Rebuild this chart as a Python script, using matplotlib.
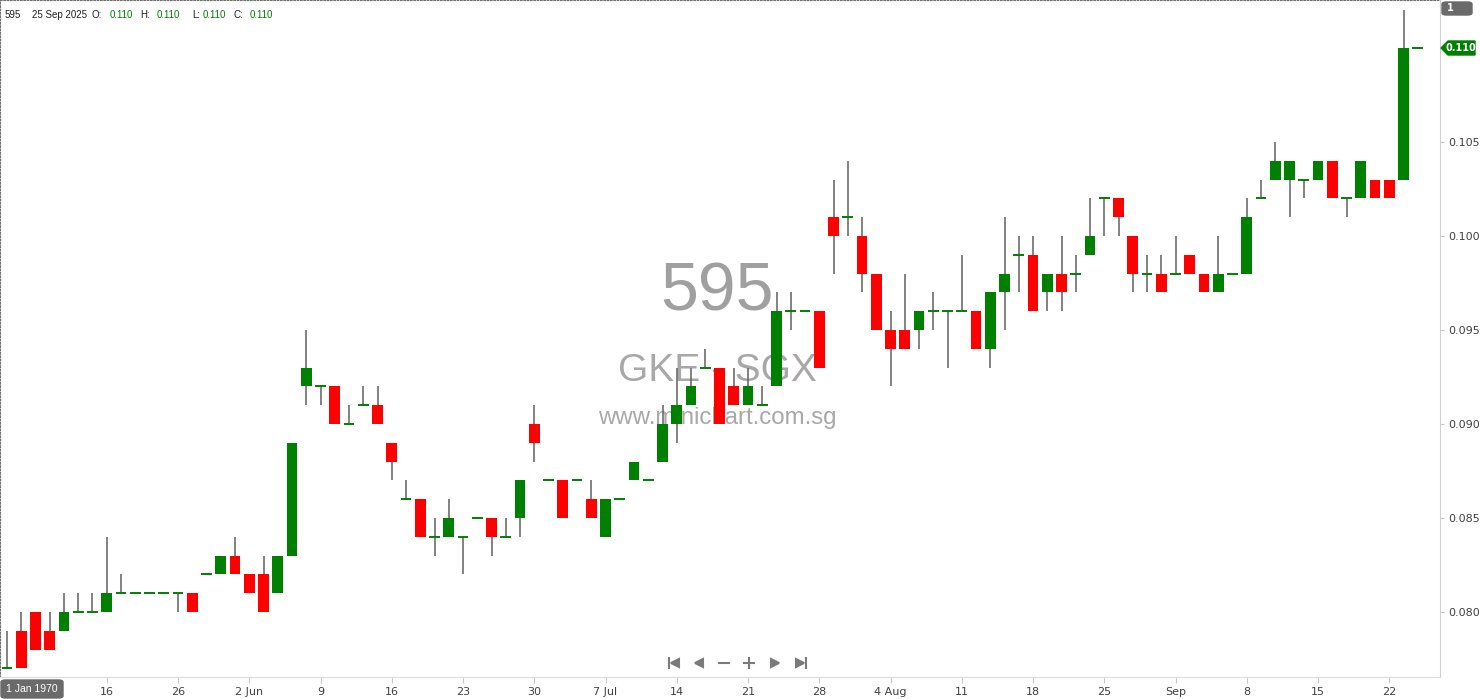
import numpy as np
import matplotlib
matplotlib.use("Agg")
import matplotlib.pyplot as plt
from matplotlib.patches import Polygon, FancyBboxPatch
from matplotlib.lines import Line2D

# =========================
# Date OHLC (in 0.001 SGD)
# =========================
opens = [77, 79, 80, 79, 79, 80, 80, 80, 81, 81, 81, 81, 81, 81, 82, 82, 83, 82, 82, 81,
         83, 92, 92, 92, 90, 91, 91, 89, 86, 86, 84, 84, 84, 85, 85, 84, 85, 90, 87, 87,
         87, 86, 84, 86, 87, 87, 88, 90, 91, 93, 93, 92, 91, 91, 92, 96, 96, 96, 101, 101,
         100, 98, 95, 95, 95, 96, 96, 96, 96, 94, 97, 99, 99, 97, 98, 98, 99, 102, 102, 100,
         98, 98, 98, 99, 98, 97, 98, 98, 102, 103, 103, 103, 103, 104, 102, 102, 103, 103, 103, 110]
highs = [79, 80, 80, 80, 81, 81, 81, 84, 82, 81, 81, 81, 81, 81, 82, 83, 84, 82, 83, 83,
         89, 95, 92, 92, 91, 92, 92, 89, 87, 86, 85, 86, 84, 85, 85, 85, 87, 91, 87, 87,
         87, 87, 86, 86, 88, 87, 91, 93, 93, 94, 93, 93, 93, 92, 97, 97, 96, 96, 103, 104,
         101, 98, 96, 98, 96, 97, 96, 99, 96, 97, 101, 100, 100, 98, 100, 99, 102, 102, 102, 100,
         99, 99, 100, 99, 98, 100, 98, 102, 103, 105, 104, 103, 104, 104, 102, 104, 103, 103, 112, 110]
lows = [77, 77, 78, 78, 79, 80, 80, 80, 81, 81, 81, 81, 80, 80, 82, 82, 82, 81, 80, 81,
        83, 91, 91, 90, 90, 91, 90, 87, 86, 84, 83, 84, 82, 85, 83, 84, 84, 88, 87, 85,
        87, 85, 84, 86, 87, 87, 88, 89, 91, 93, 90, 91, 91, 91, 92, 95, 96, 93, 98, 100,
        97, 95, 92, 94, 94, 95, 93, 96, 94, 93, 95, 97, 96, 96, 96, 97, 99, 100, 100, 97,
        97, 97, 98, 98, 97, 97, 98, 98, 102, 103, 101, 102, 103, 102, 101, 102, 102, 102, 103, 110]
closes = [77, 77, 78, 78, 80, 80, 80, 81, 81, 81, 81, 81, 81, 80, 82, 83, 82, 81, 80, 83,
          89, 93, 92, 90, 90, 91, 90, 88, 86, 84, 84, 85, 84, 85, 84, 84, 87, 89, 87, 85,
          87, 85, 86, 86, 88, 87, 90, 91, 92, 93, 90, 91, 92, 91, 96, 96, 96, 93, 100, 101,
          98, 95, 94, 94, 96, 96, 96, 96, 94, 97, 98, 99, 96, 98, 97, 98, 100, 102, 101, 98,
          98, 97, 98, 98, 97, 98, 98, 101, 102, 104, 104, 103, 104, 102, 102, 104, 102, 102, 110, 110]

tick_idx = [7, 12, 17, 22, 27, 32, 37, 42, 47, 52, 57, 62, 67, 72, 77, 82, 87, 92, 97]
tick_labels = ["16", "26", "2 Jun", "9", "16", "23", "30", "7 Jul", "14", "21", "28",
               "4 Aug", "11", "18", "25", "Sep", "8", "15", "22"]
y_ticks = [0.080, 0.085, 0.090, 0.095, 0.100, 0.105]

o = np.array(opens) / 1000
h = np.array(highs) / 1000
l = np.array(lows) / 1000
c = np.array(closes) / 1000
x = np.arange(len(o))

GREEN = "#008000"
RED = "#ff0000"
W, H = 1480, 699

fig = plt.figure(figsize=(W / 100, H / 100), dpi=100)
ax = fig.add_axes([0, 22 / H, 1440 / W, 677 / H])

# watermark
ax.text(0.498, 0.568, "595", transform=ax.transAxes, ha="center", va="center",
        fontsize=49, color="#a0a0a0", family="Liberation Sans", zorder=0)
ax.text(0.498, 0.452, "GKE - SGX", transform=ax.transAxes, ha="center", va="center",
        fontsize=28, color="#a8a8a8", family="Liberation Sans", zorder=0)
ax.text(0.498, 0.383, "www.minichart.com.sg", transform=ax.transAxes, ha="center", va="center",
        fontsize=17.3, color="#a8a8a8", family="Liberation Sans", zorder=0)

# wicks
ax.vlines(x, l, h, color="#606060", linewidth=1.1, zorder=2)

# bodies
up = c > o
dn = c < o
flat = c == o
bw = 0.76
ax.bar(x[up], (c - o)[up], bottom=o[up], width=bw, color=GREEN, zorder=3)
ax.bar(x[dn], (o - c)[dn], bottom=c[dn], width=bw, color=RED, zorder=3)
ax.hlines(c[flat], x[flat] - bw / 2, x[flat] + bw / 2, color=GREEN, linewidth=1.4, zorder=3)

ax.set_xlim(-0.491, 100.56)
ax.set_ylim(0.076543, 0.112553)

ax.yaxis.tick_right()
ax.set_yticks(y_ticks)
ax.set_yticklabels([f"{v:.3f}" for v in y_ticks])
ax.set_xticks(tick_idx)
ax.set_xticklabels(tick_labels)
ax.tick_params(axis="y", length=3, width=0.8, color="#c8c8c8", labelsize=8,
               labelcolor="#404040", pad=3)
ax.tick_params(axis="x", length=4, width=0.8, color="#c8c8c8", labelsize=8,
               labelcolor="#404040", pad=3)

for s in ["left", "top"]:
    ax.spines[s].set_linestyle((0, (1.5, 1.5)))
    ax.spines[s].set_color("#707070")
    ax.spines[s].set_linewidth(0.8)
ax.spines["right"].set_color("#cfcfcf")
ax.spines["bottom"].set_color("#dcdcdc")


def fx(px):
    return px / W


def fy(py):
    return 1 - py / H


# header line
hdr = [("595", 5, "#202020"), ("25 Sep 2025", 32, "#202020"), ("O:", 91, "#202020"),
       ("0.110", 110, GREEN), ("H:", 140, "#202020"), ("0.110", 157, GREEN),
       ("L:", 192, "#202020"), ("0.110", 203, GREEN), ("C:", 233, "#202020"),
       ("0.110", 250, GREEN)]
for txt, px, col in hdr:
    fig.text(fx(px), fy(15), txt, fontsize=7, color=col, va="center", ha="left",
             family="Liberation Sans")

# last price tag
tag = Polygon([(fx(1441), fy(48)), (fx(1448), fy(41)), (fx(1475), fy(41)),
               (fx(1475), fy(55)), (fx(1448), fy(55))], closed=True,
              transform=fig.transFigure, color=GREEN, zorder=5)
fig.add_artist(tag)
fig.text(fx(1461), fy(48), "0.110", fontsize=7, color="white", ha="center", va="center",
         fontweight="bold", zorder=6)

# "1" box
box1 = FancyBboxPatch((fx(1442), fy(15)), fx(30), 13 / H, boxstyle="round,pad=0,rounding_size=0.003",
                      transform=fig.transFigure, color="#6a6a6a", zorder=5)
fig.add_artist(box1)
fig.text(fx(1447), fy(8), "1", fontsize=7, color="white", ha="left", va="center",
         fontweight="bold", zorder=6)

# cursor date box
box2 = FancyBboxPatch((fx(1), fy(698)), fx(62), 18 / H, boxstyle="round,pad=0,rounding_size=0.003",
                      transform=fig.transFigure, color="#6a6a6a", zorder=5)
fig.add_artist(box2)
fig.text(fx(32), fy(689), "1 Jan 1970", fontsize=7.5, color="white", ha="center", va="center",
         family="Liberation Sans", zorder=6)

# navigation icons
nav_col = "#7a7a7a"
iy = fy(663)
for px, mk, ms in [(669, "|", 8), (675, "<", 6), (699, "<", 6), (724, "_", 8),
                   (749, "+", 8), (775, ">", 6), (800, ">", 6), (806, "|", 8)]:
    fig.add_artist(Line2D([fx(px)], [iy], marker=mk, markersize=ms, color=nav_col,
                          markeredgewidth=1.5, transform=fig.transFigure))

fig.savefig("out.png", dpi=100)
